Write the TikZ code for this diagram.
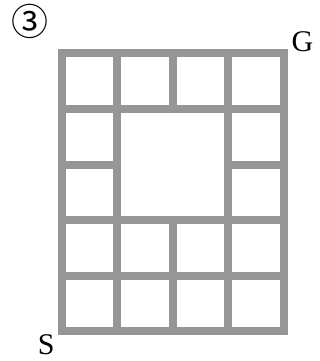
\documentclass[tikz,border=0pt]{standalone}
\usepackage{fontspec}
\setmainfont{Liberation Serif}
\newfontfamily\symfont{Noto Sans CJK JP}
\definecolor{gridgray}{RGB}{150,150,150}
\begin{document}
\begin{tikzpicture}[x=1pt,y=-1pt,
  gridline/.style={draw=gridgray,line width=8pt,line join=miter},
  lbl/.style={inner sep=0pt,font=\fontsize{30}{30}\selectfont}]
\useasboundingbox (0,0) rectangle (320,361);
% outer frame
\draw[gridline] (61.5,53.5) rectangle (283.5,331);
% vertical lines
\draw[gridline] (117,53.5) -- (117,331);
\draw[gridline] (228,53.5) -- (228,331);
\draw[gridline] (172.5,53.5) -- (172.5,109);
\draw[gridline] (172.5,220) -- (172.5,331);
% horizontal lines
\draw[gridline] (61.5,109) -- (283.5,109);
\draw[gridline] (61.5,220) -- (283.5,220);
\draw[gridline] (61.5,275.5) -- (283.5,275.5);
\draw[gridline] (61.5,164.5) -- (117,164.5);
\draw[gridline] (228,164.5) -- (283.5,164.5);
% labels
\node[lbl] (g) at (302.5,42) {G};
\node[lbl] (s) at (46.3,344.5) {S};
\node[inner sep=0pt,font=\symfont\fontsize{37}{37}\selectfont] (num) at (30,21) {③};
\end{tikzpicture}
\end{document}
